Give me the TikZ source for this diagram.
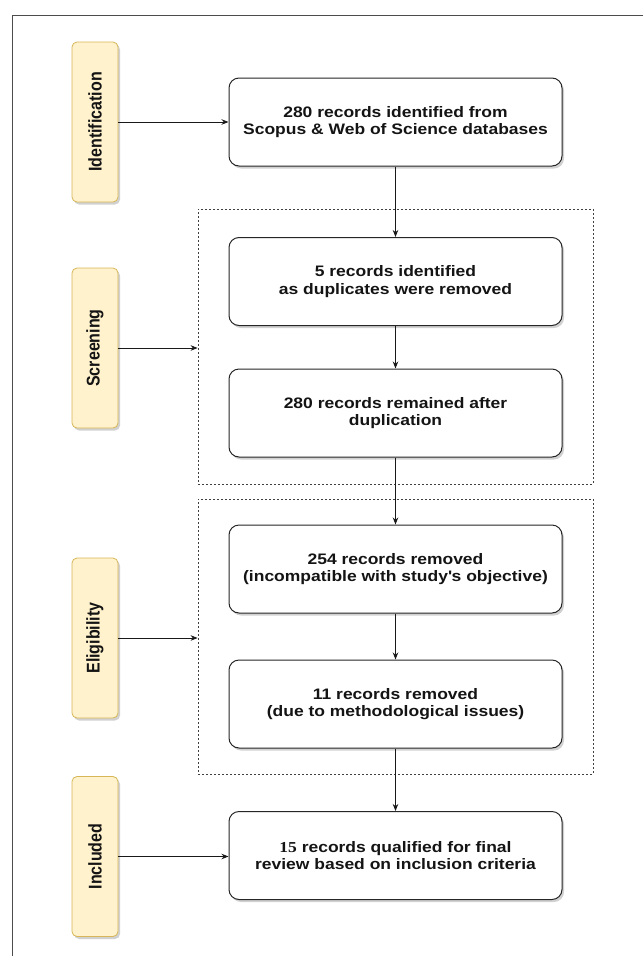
\documentclass[tikz,border=0pt]{standalone}
\usepackage{fontspec}
\usepackage{graphicx}
\setmainfont{Liberation Sans}[FakeStretch=1.15]
\newfontfamily\labfont{Liberation Sans}
\newfontfamily\numfont{Liberation Serif}[FakeStretch=1.15]
\usetikzlibrary{shadows,arrows.meta}
\definecolor{labfill}{HTML}{FFF2CC}
\definecolor{labdraw}{HTML}{D6B656}
\definecolor{txt}{HTML}{141414}
\begin{document}
\begin{tikzpicture}[x=1pt,y=-1pt,
  lab/.style={draw=labdraw, fill=labfill, rounded corners=5pt, minimum width=46pt, minimum height=160pt, inner sep=0pt, line width=0.8pt,
    drop shadow={shadow xshift=2pt, shadow yshift=-2.5pt, fill=black, opacity=0.18},
    font=\labfont\fontsize{16}{18}\selectfont\bfseries, text=txt},
  box/.style={draw=black!85, fill=white, rounded corners=10pt, minimum width=333pt, minimum height=88pt, line width=1pt, align=center,
    drop shadow={shadow xshift=2pt, shadow yshift=-2.5pt, fill=black, opacity=0.18},
    font=\fontsize{15.2}{17.7}\selectfont\bfseries, text=txt},
  dbox/.style={draw=black!75, dash pattern=on 2pt off 2pt, line width=0.8pt, minimum width=395pt, minimum height=275pt, inner sep=0pt},
  arr/.style={-{Stealth[length=7pt,width=5.5pt]}, line width=0.8pt, black!90}
]
\useasboundingbox (0,0) rectangle (643,956);
\draw[line width=1pt, black!70] (643,15) -- (12,15) -- (12,956);

\node[dbox] (d1) at (395.5,346.5) {};
\node[dbox] (d2) at (395.5,636.5) {};

\node[lab] (l1) at (95,122) {\rotatebox{90}{\scalebox{1}[1.15]{Identification}}};
\node[lab] (l2) at (95,348) {\rotatebox{90}{\scalebox{1}[1.15]{Screening}}};
\node[lab] (l3) at (95,638) {\rotatebox{90}{\scalebox{1}[1.15]{Eligibility}}};
\node[lab] (l4) at (95,856.5) {\rotatebox{90}{\scalebox{1}[1.15]{Included}}};

\node[box] (b1) at (395.5,122) {280 records identified from\\Scopus \& Web of Science databases};
\node[box] (b2) at (395.5,281.5) {5 records identified\\as duplicates were removed};
\node[box] (b3) at (395.5,413) {280 records remained after\\duplication};
\node[box] (b4) at (395.5,569) {254 records removed\\(incompatible with study\textquotesingle s objective)};
\node[box] (b5) at (395.5,704) {11 records removed\\(due to methodological issues)};
\node[box] (b6) at (395.5,855.5) {{\numfont 15} records qualified for final\\review based on inclusion criteria};

\draw[arr] (l1.east) -- (l1.east -| b1.west);
\draw[arr] (l2.east) -- (l2.east -| d1.west);
\draw[arr] (l3.east) -- (l3.east -| d2.west);
\draw[arr] (l4.east) -- (l4.east -| b6.west);
\draw[arr] (b1) -- (b2);
\draw[arr] (b2) -- (b3);
\draw[arr] (b3) -- (b4);
\draw[arr] (b4) -- (b5);
\draw[arr] (b5) -- (b6);
\end{tikzpicture}
\end{document}
